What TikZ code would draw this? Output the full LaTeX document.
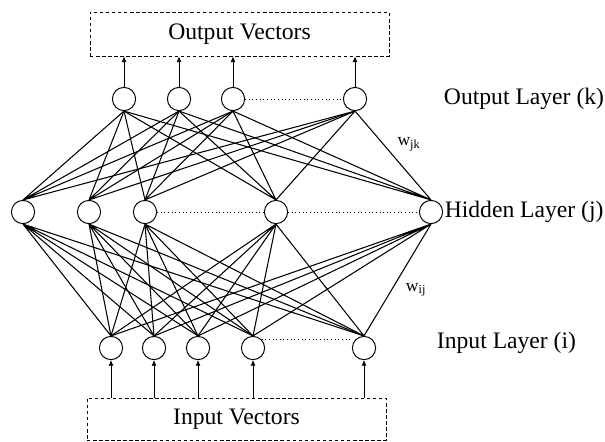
\documentclass[tikz,border=0pt]{standalone}
\usepackage{fontspec}
\setmainfont{Liberation Serif}
\usetikzlibrary{positioning,arrows.meta}

\begin{document}
\begin{tikzpicture}[x=0.025cm, y=-0.025cm, font=\fontsize{16.8}{20}\selectfont,
  neuron/.style={circle,draw,line width=0.7pt,minimum size=0.58cm,inner sep=0pt},
  vecbox/.style={draw,dash pattern=on 2.5pt off 1.8pt,line width=0.6pt,minimum width=7.475cm},
  link/.style={line width=0.75pt},
  feed/.style={-{Latex[length=4pt,width=3.5pt]},line width=0.5pt},
  dots/.style={dotted,line width=0.6pt}]
\useasboundingbox (0,0) rectangle (605,441);

\node[vecbox, minimum height=1.1cm] (outvec) at (239.5, 34) {Output Vectors};
\node[vecbox, minimum height=1.05cm] (invec) at (236.5, 419) {Input Vectors};

\node[neuron] (o1) at (124, 99) {};
\node[neuron] (o2) at (179, 99) {};
\node[neuron] (o3) at (233, 99) {};
\node[neuron] (o4) at (355, 99) {};

\node[neuron] (h1) at (23, 212) {};
\node[neuron] (h2) at (89, 212) {};
\node[neuron] (h3) at (145, 212) {};
\node[neuron] (h4) at (276, 212) {};
\node[neuron] (h5) at (431, 212) {};

\node[neuron] (i1) at (111, 348) {};
\node[neuron] (i2) at (154, 348) {};
\node[neuron] (i3) at (198, 348) {};
\node[neuron] (i4) at (253, 348) {};
\node[neuron] (i5) at (364, 348) {};

\node[anchor=west] (outlayer) at (439, 99) {Output Layer (k)};
\node[anchor=west, inner sep=1pt] (hidlayer) at (h5.east) {Hidden Layer (j)};
\node[anchor=west] (inlayer) at (432, 343) {Input Layer (i)};
\node[font=\fontsize{12.5}{14}\selectfont] (wjk) at (409, 144) {w\textsubscript{jk}};
\node[font=\fontsize{12.5}{14}\selectfont] (wij) at (416, 290) {w\textsubscript{ij}};

\draw[feed] (o1.north) -- (outvec.south -| o1);
\draw[feed] (o2.north) -- (outvec.south -| o2);
\draw[feed] (o3.north) -- (outvec.south -| o3);
\draw[feed] (o4.north) -- (outvec.south -| o4);

\draw[feed] (invec.north -| i1) -- (i1.south);
\draw[feed] (invec.north -| i2) -- (i2.south);
\draw[feed] (invec.north -| i3) -- (i3.south);
\draw[feed] (invec.north -| i4) -- (i4.south);
\draw[feed] (invec.north -| i5) -- (i5.south);

\draw[dots] (o3) -- (o4);
\draw[dots] (h3) -- (h4);
\draw[dots] (h4) -- (h5);
\draw[dots] (i4.north east) -- (i5.west |- i4.north east);

\draw[link] (h1.north) -- (o1.south) (h1.north) -- (o2.south) (h1.north) -- (o3.south) (h1.north) -- (o4.south);
\draw[link] (h2.north) -- (o1.south) (h2.north) -- (o2.south) (h2.north) -- (o3.south) (h2.north) -- (o4.south);
\draw[link] (h3.north) -- (o1.south) (h3.north) -- (o2.south) (h3.north) -- (o3.south) (h3.north) -- (o4.south);
\draw[link] (h4.north) -- (o1.south) (h4.north) -- (o2.south) (h4.north) -- (o3.south) (h4.north) -- (o4.south);
\draw[link] (h5.north) -- (o1.south) (h5.north) -- (o2.south) (h5.north) -- (o3.south) (h5.north) -- (o4.south);

\draw[link] (h1.south) -- (i1.north) (h1.south) -- (i2.north) (h1.south) -- (i3.north) (h1.south) -- (i4.north) (h1.south) -- (i5.north);
\draw[link] (h2.south) -- (i1.north) (h2.south) -- (i2.north) (h2.south) -- (i3.north) (h2.south) -- (i4.north) (h2.south) -- (i5.north);
\draw[link] (h3.south) -- (i1.north) (h3.south) -- (i2.north) (h3.south) -- (i3.north) (h3.south) -- (i4.north) (h3.south) -- (i5.north);
\draw[link] (h4.south) -- (i1.north) (h4.south) -- (i2.north) (h4.south) -- (i3.north) (h4.south) -- (i4.north) (h4.south) -- (i5.north);
\draw[link] (h5.south) -- (i1.north) (h5.south) -- (i2.north) (h5.south) -- (i3.north) (h5.south) -- (i4.north) (h5.south) -- (i5.north);
\end{tikzpicture}
\end{document}
